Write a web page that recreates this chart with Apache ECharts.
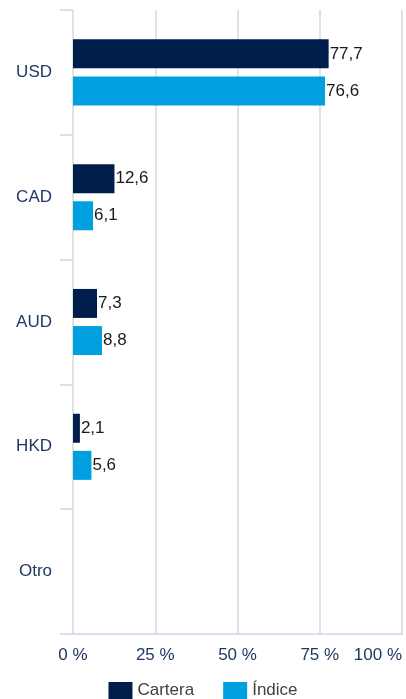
<!DOCTYPE html>
<html>
<head>
<meta charset="utf-8">
<script src="https://cdn.jsdelivr.net/npm/echarts@6/dist/echarts.min.js"></script>
<style>
  html, body { margin: 0; padding: 0; background: #fff; }
  #main { width: 406px; height: 699px; }
</style>
</head>
<body>
<div id="main"></div>
<script>
var categories = ['USD', 'CAD', 'AUD', 'HKD', 'Otro'];
var cartera = [77.7, 12.6, 7.3, 2.1, null];
var indice = [76.6, 6.1, 8.8, 5.6, null];
var xTicks = [0, 25, 50, 75, 100];

var font = 'Liberation Sans, Arial, sans-serif';

function fmt(p) {
    return String(p.value).replace('.', ',');
}

var chart = echarts.init(document.getElementById('main'));
chart.setOption({
    animation: false,
    textStyle: { fontFamily: font },
    grid: { left: 73, right: 4, top: 10, bottom: 65, containLabel: false, outerBoundsMode: 'none' },
    legend: {
        top: 682,
        left: 'center',
        padding: 0,
        itemWidth: 24,
        itemHeight: 17,
        itemGap: 29,
        icon: 'rect',
        textStyle: { fontSize: 17, color: '#404040', fontFamily: font },
        data: ['Cartera', 'Índice']
    },
    xAxis: {
        type: 'value',
        min: xTicks[0],
        max: xTicks[xTicks.length - 1],
        interval: 25,
        axisLine: { show: true, lineStyle: { color: '#c9d6ea', width: 1.5 } },
        axisTick: { show: false },
        splitLine: { show: true, lineStyle: { color: '#d9d9d9', width: 1.5 } },
        axisLabel: {
            formatter: '{value} %',
            color: '#1f3864',
            fontSize: 17,
            margin: 13,
            alignMaxLabel: 'right',
            fontFamily: font
        }
    },
    yAxis: {
        type: 'category',
        inverse: true,
        data: categories,
        axisLine: { show: false },
        axisTick: { show: true, length: 13, lineStyle: { color: '#c9d6ea', width: 1.5 } },
        axisLabel: { color: '#1f3864', fontSize: 17, margin: 21, fontFamily: font }
    },
    series: [
        {
            name: 'Cartera',
            type: 'bar',
            data: cartera,
            barWidth: 29,
            barGap: '28%',
            itemStyle: { color: '#001e4b' },
            label: { show: true, position: 'right', distance: 1, color: '#1a1a1a', fontSize: 17, fontFamily: font, formatter: fmt }
        },
        {
            name: 'Índice',
            type: 'bar',
            data: indice,
            barWidth: 29,
            barGap: '28%',
            itemStyle: { color: '#009fdf' },
            label: { show: true, position: 'right', distance: 1, color: '#1a1a1a', fontSize: 17, fontFamily: font, formatter: fmt }
        }
    ]
});
</script>
</body>
</html>
